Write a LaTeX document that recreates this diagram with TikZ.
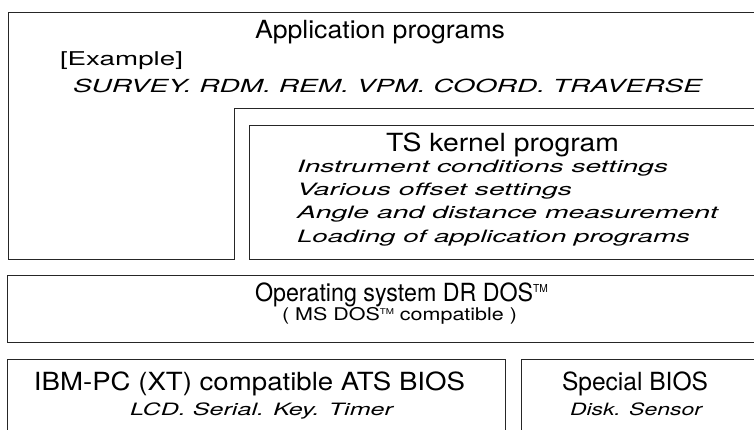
\documentclass[tikz,border=0pt]{standalone}
\usepackage{fontspec}
\setmainfont{TeX Gyre Heros}
\usepackage{graphicx}
\newcommand{\fitw}[3]{\resizebox{#1pt}{\height}{\fontsize{#2}{#2}\selectfont #3}}
\newcommand{\tmark}[2]{\raisebox{#2pt}{\fontsize{#1}{#1}\selectfont TM}}
\tikzset{
  frame/.style={draw=black!85, line width=0.9pt},
  lbl/.style={inner sep=0pt, outer sep=0pt, anchor=base west, text=black}
}
\begin{document}
\begin{tikzpicture}[x=1pt,y=-1pt]
\useasboundingbox (0,0) rectangle (754,429);
\clip (0,0) rectangle (754,429);
\fill[white] (0,0) rectangle (754,429);
% Application programs outline (L-shape, open to the right)
\draw[frame] (760,12) -- (8,12) -- (8,259) -- (234,259) -- (234,108) -- (760,108);
% TS kernel box
\draw[frame] (760,125) -- (249,125) -- (249,259) -- (760,259);
% Operating system box
\draw[frame] (760,275) -- (7,275) -- (7,342) -- (760,342);
% IBM BIOS box
\draw[frame] (7,440) -- (7,359) -- (505,359) -- (505,440);
% Special BIOS box
\draw[frame] (521,440) -- (521,359) -- (760,359);

\node[lbl] (app) at (255,38.5) {\fitw{250}{25}{Application programs}};
\node[lbl] (ex) at (60,65.5) {\fitw{123}{19}{[Example]}};
\node[lbl] (sv) at (73,92) {\fitw{629}{18}{\itshape SURVEY. RDM. REM. VPM. COORD. TRAVERSE}};

\node[lbl] (ts) at (386,151.5) {\fitw{233}{25}{TS kernel program}};
\node[lbl] (i1) at (297,172) {\fitw{371}{17}{\itshape Instrument conditions settings}};
\node[lbl] (i2) at (297,195) {\fitw{275}{17}{\itshape Various offset settings}};
\node[lbl] (i3) at (297,218) {\fitw{421}{17}{\itshape Angle and distance measurement}};
\node[lbl] (i4) at (297,242) {\fitw{393}{17}{\itshape Loading of application programs}};

\node[lbl] (os) at (255,301) {\fitw{293}{25}{Operating system DR DOS\tmark{11}{8.5}}};
\node[lbl] (ms) at (282,320) {\fitw{235}{17.5}{( MS DOS\tmark{8}{6} compatible )}};

\node[lbl] (ibm) at (34,390) {\fitw{431}{25}{IBM-PC (XT) compatible ATS BIOS}};
\node[lbl] (lcd) at (130,415) {\fitw{263}{17}{\itshape LCD. Serial. Key. Timer}};

\node[lbl] (sp) at (562,390) {\fitw{146}{25}{Special BIOS}};
\node[lbl] (dk) at (570,415) {\fitw{132}{17}{\itshape Disk. Sensor}};
\end{tikzpicture}
\end{document}
